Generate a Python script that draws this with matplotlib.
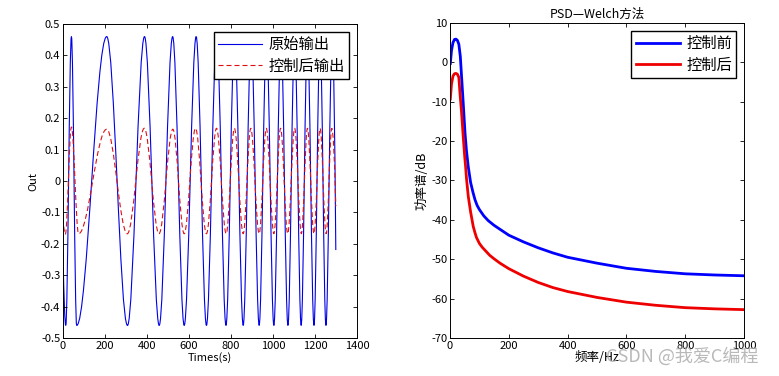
import matplotlib
matplotlib.use("Agg")
import matplotlib.pyplot as plt
from matplotlib.path import Path
from matplotlib.patches import PathPatch
from matplotlib.lines import Line2D

plt.rcParams['font.family'] = ['Liberation Sans Narrow', 'Noto Sans CJK SC', 'DejaVu Sans']
plt.rcParams['axes.unicode_minus'] = False

# left panel: turning points of the two outputs
raw_t = [0, 13, 40, 65, 208, 307, 388, 458, 522, 577, 634, 683, 732, 776, 817, 858,
         896, 934, 969, 1004, 1038, 1071, 1103, 1134, 1164, 1195, 1224, 1252, 1282, 1299]
raw_v = [-0.23, -0.46, 0.46, -0.46, 0.46, -0.46, 0.46, -0.46, 0.46, -0.46, 0.46, -0.46,
         0.46, -0.46, 0.46, -0.46, 0.46, -0.46, 0.46, -0.46, 0.46, -0.46, 0.46, -0.46,
         0.46, -0.46, 0.46, -0.46, 0.46, -0.22]
ctl_t = [0, 11, 40, 74, 208, 306, 387, 457, 523, 577, 631, 683, 731, 777, 816, 858,
         894, 934, 968, 1004, 1036, 1070, 1103, 1135, 1164, 1195, 1224, 1253, 1280, 1299]
ctl_v = [-0.12, -0.17, 0.172, -0.168, 0.165, -0.168, 0.168, -0.168, 0.165, -0.168, 0.168,
         -0.168, 0.168, -0.168, 0.168, -0.168, 0.168, -0.168, 0.168, -0.168, 0.168, -0.168,
         0.168, -0.168, 0.168, -0.168, 0.168, -0.168, 0.168, -0.08]

# right panel: Welch PSD (dB)
f_before = [1, 5, 10, 15, 20, 25, 30, 35, 40, 45, 51, 56, 62, 70, 78, 85, 92, 100, 115,
            130, 150, 170, 200, 250, 300, 350, 400, 500, 600, 700, 800, 900, 1000]
p_before = [-0.3, 3.0, 5.0, 5.8, 5.9, 5.6, 4.6, 1.5, -4.5, -10.5, -18.0, -22.5, -26.5,
            -30.5, -33.0, -34.9, -36.3, -37.4, -39.0, -40.2, -41.4, -42.4, -43.9, -45.6,
            -47.1, -48.4, -49.5, -51.0, -52.3, -53.1, -53.7, -54.0, -54.2]
f_after = [1, 5, 10, 15, 20, 25, 30, 34, 39, 45, 50, 53, 56, 62, 70, 79, 85, 90, 100,
           110, 120, 135, 150, 170, 200, 250, 300, 350, 400, 500, 600, 700, 800, 900, 1000]
p_after = [-9.3, -5.5, -3.5, -2.9, -2.8, -3.0, -3.8, -8.0, -12.5, -19.0, -24.0, -26.5,
           -29.5, -34.0, -38.0, -41.7, -43.3, -44.5, -46.0, -47.0, -47.8, -49.0, -49.9,
           -51.0, -52.4, -54.3, -55.9, -57.2, -58.2, -59.7, -60.9, -61.7, -62.3, -62.6,
           -62.8]


def wave_path(t, v, a=0.36):
    # smooth curve through the turning points (cubic Bezier half waves)
    verts = [(t[0], v[0])]
    codes = [Path.MOVETO]
    n = len(t)
    for i in range(n - 1):
        x0, y0, x1, y1 = t[i], v[i], t[i + 1], v[i + 1]
        dx = x1 - x0
        if i == 0:
            verts += [(x1 - 0.5 * dx, y1), (x1, y1)]
            codes += [Path.CURVE3] * 2
        elif i == n - 2:
            verts += [(x0 + 0.5 * dx, y0), (x1, y1)]
            codes += [Path.CURVE3] * 2
        else:
            verts += [(x0 + a * dx, y0), (x1 - a * dx, y1), (x1, y1)]
            codes += [Path.CURVE4] * 3
    return Path(verts, codes)


fig = plt.figure(figsize=(7.79, 3.76), dpi=100, facecolor='white')
ax1 = fig.add_axes([0.0809, 0.1011, 0.3774, 0.835])
ax2 = fig.add_axes([0.5777, 0.1011, 0.3774, 0.8378])

blue_l = '#0000e6'
red_l = '#dd1111'
dash = (0, (4.5, 2.7))
leg_kw = dict(loc='upper right', fancybox=False, framealpha=1, edgecolor='black',
              handlelength=2.9, borderpad=0.3, labelspacing=0.3, handletextpad=0.4,
              borderaxespad=0.5, prop={'family': ['Noto Sans CJK SC'], 'size': 11})

ax1.add_patch(PathPatch(wave_path(raw_t, raw_v), fill=False, edgecolor=blue_l, lw=0.8))
ax1.add_patch(PathPatch(wave_path(ctl_t, ctl_v), fill=False, edgecolor=red_l, lw=0.8,
                        linestyle=dash))
ax1.set_xlim(0, 1400)
ax1.set_ylim(-0.5, 0.5)
ax1.set_xticks(range(0, 1401, 200))
ax1.set_yticks([i / 10 for i in range(-5, 6)])
ax1.set_yticklabels(['%g' % (i / 10) for i in range(-5, 6)])
ax1.set_xlabel('Times(s)', fontsize=8, labelpad=1)
ax1.set_ylabel('Out', fontsize=8, labelpad=2)
h1 = [Line2D([], [], color=blue_l, lw=0.8),
      Line2D([], [], color=red_l, lw=0.8, linestyle=dash)]
ax1.legend(h1, ['原始输出', '控制后输出'], **leg_kw)

ax2.plot(f_before, p_before, color='#0000ff', lw=2, label='控制前')
ax2.plot(f_after, p_after, color='#ee0000', lw=2, label='控制后')
ax2.set_xlim(0, 1000)
ax2.set_ylim(-70, 10)
ax2.set_xticks(range(0, 1001, 200))
ax2.set_yticks(range(-70, 11, 10))
ax2.set_xlabel('频率/Hz', fontsize=9, labelpad=0)
ax2.set_ylabel('功率谱/dB', fontsize=9, labelpad=2)
ax2.set_title('PSD—Welch方法', fontsize=9, pad=4)
ax2.legend(**leg_kw)

for ax in (ax1, ax2):
    ax.tick_params(direction='in', top=True, right=True, length=3, width=0.6,
                   labelsize=8, pad=2)
    for s in ax.spines.values():
        s.set_linewidth(0.7)

# watermark of the source page
fig.text(0.778, 0.053, 'CSDN @我爱C编程', ha='left', va='center', fontsize=13,
         color='#a8a8a8', alpha=0.8,
         family=['Noto Sans CJK SC', 'DejaVu Sans'])

fig.savefig('out.png', dpi=100, facecolor='white')
